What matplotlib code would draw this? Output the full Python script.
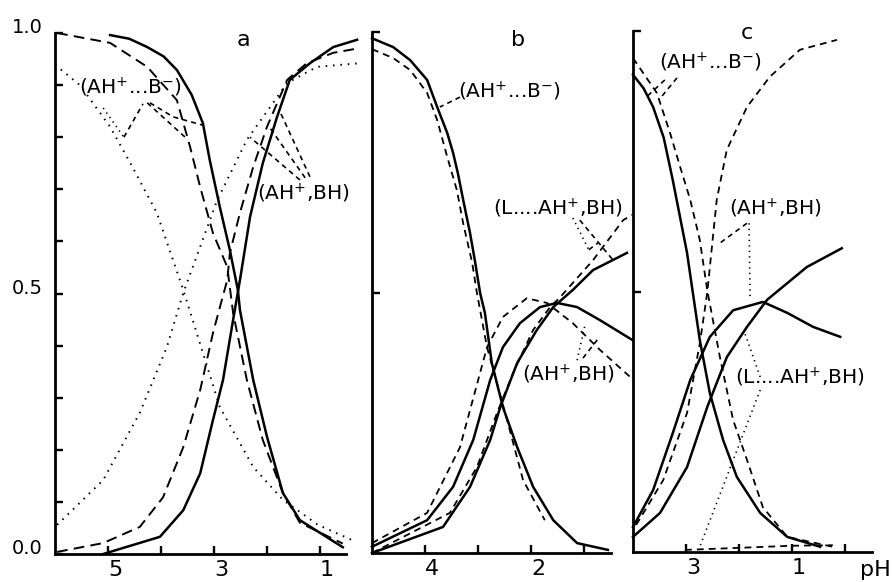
import matplotlib.pyplot as plt
import numpy as np

plt.rcParams['font.family'] = ['DejaVu Sans']
plt.rcParams['mathtext.fontset'] = 'dejavusans'

# ---- panel a (pH, fraction) ----
a_dot_dn_ph = [6.0, 5.53, 4.96, 4.55, 4.08, 3.58, 2.89, 2.26, 1.70, 1.04, 0.40]
a_dot_dn_y = [0.939, 0.90, 0.82, 0.745, 0.655, 0.507, 0.282, 0.167, 0.104, 0.056, 0.027]
a_dot_up_ph = [5.96, 5.09, 4.40, 3.89, 3.58, 2.94, 2.38, 1.62, 1.06, 0.25]
a_dot_up_y = [0.056, 0.142, 0.271, 0.397, 0.501, 0.679, 0.795, 0.904, 0.935, 0.942]
a_dash_dn_ph = [5.96, 4.96, 4.26, 3.70, 3.45, 3.26, 3.02, 2.75, 2.64, 2.38, 2.08, 1.70, 1.38, 0.57]
a_dash_dn_y = [1.0, 0.981, 0.935, 0.871, 0.781, 0.704, 0.616, 0.551, 0.463, 0.334, 0.219, 0.117, 0.06, 0.02]
a_sol_dn_ph = [4.96, 4.60, 4.26, 3.95, 3.70, 3.42, 3.21, 3.08, 2.89, 2.70, 2.55, 2.51, 2.26, 2.0, 1.70, 1.38, 0.57]
a_sol_dn_y = [0.996, 0.989, 0.973, 0.955, 0.929, 0.881, 0.827, 0.756, 0.666, 0.583, 0.507, 0.468, 0.334, 0.225, 0.117, 0.065, 0.013]
a_sol_up_ph = [5.09, 4.02, 3.58, 3.26, 3.02, 2.83, 2.64, 2.51, 2.32, 2.08, 1.81, 1.57, 1.19, 0.75, 0.30]
a_sol_up_y = [0.0, 0.033, 0.084, 0.155, 0.257, 0.334, 0.449, 0.526, 0.647, 0.75, 0.839, 0.91, 0.942, 0.973, 0.987]
a_dash_up_ph = [5.96, 5.09, 4.40, 3.96, 3.58, 3.26, 3.02, 2.75, 2.70, 2.51, 2.26, 2.0, 1.62, 1.25, 0.75, 0.25]
a_dash_up_y = [0.004, 0.021, 0.052, 0.109, 0.205, 0.315, 0.424, 0.526, 0.578, 0.655, 0.743, 0.82, 0.91, 0.942, 0.962, 0.971]

# ---- panel b ----
b_sol_dn_ph = [5.0, 4.60, 4.28, 3.96, 3.77, 3.58, 3.47, 3.38, 3.28, 3.15, 3.06, 2.96, 2.87, 2.74, 2.53,
               2.26, 1.96, 1.58, 1.13, 0.55]
b_sol_dn_y = [0.988, 0.971, 0.946, 0.908, 0.856, 0.806, 0.768, 0.729, 0.678, 0.614, 0.562, 0.499, 0.461,
              0.365, 0.280, 0.203, 0.127, 0.063, 0.019, 0.006]
b_dash_dn_ph = [5.0, 4.60, 4.28, 3.96, 3.77, 3.58, 3.40, 3.28, 3.11, 3.02, 2.83, 2.45, 2.15, 1.74]
b_dash_dn_y = [0.967, 0.95, 0.927, 0.883, 0.831, 0.76, 0.697, 0.633, 0.557, 0.499, 0.395, 0.255, 0.14, 0.063]
b_sol_bell_ph = [5.0, 3.96, 3.47, 3.09, 2.77, 2.53, 2.21, 1.83, 1.51, 1.13, 0.70, 0.09]
b_sol_bell_y = [0.012, 0.063, 0.127, 0.217, 0.332, 0.395, 0.441, 0.472, 0.48, 0.472, 0.447, 0.409]
b_sol_up_ph = [5.0, 3.66, 3.15, 2.77, 2.58, 2.26, 1.89, 1.58, 1.21, 0.83, 0.19]
b_sol_up_y = [0.0, 0.05, 0.127, 0.217, 0.28, 0.365, 0.428, 0.472, 0.505, 0.543, 0.576]
b_dash_bell_ph = [5.0, 3.96, 3.34, 2.83, 2.53, 2.08, 1.70, 1.21, 0.70, 0.13]
b_dash_bell_y = [0.019, 0.077, 0.203, 0.395, 0.453, 0.489, 0.48, 0.441, 0.39, 0.338]
b_dash_up_ph = [5.0, 3.53, 3.02, 2.64, 2.34, 1.96, 1.64, 1.45, 0.83, 0.26, 0.09]
b_dash_up_y = [0.0, 0.077, 0.165, 0.269, 0.345, 0.428, 0.472, 0.491, 0.562, 0.639, 0.649]

# ---- panel c ----
c_sol_dn_ph = [4.0, 3.80, 3.62, 3.42, 3.25, 2.98, 2.87, 2.74, 2.55, 2.30, 2.04, 1.60, 1.09, 0.47]
c_sol_dn_y = [0.916, 0.89, 0.854, 0.795, 0.714, 0.574, 0.497, 0.407, 0.305, 0.215, 0.144, 0.075, 0.029, 0.01]
c_dash_dn_ph = [4.0, 3.55, 3.30, 3.11, 2.92, 2.74, 2.60, 2.36, 2.11, 1.85, 1.55, 1.09, 0.23]
c_dash_dn_y = [0.948, 0.881, 0.804, 0.739, 0.676, 0.599, 0.503, 0.374, 0.253, 0.177, 0.086, 0.029, 0.01]
c_dash_up_ph = [3.94, 3.43, 2.98, 2.74, 2.60, 2.42, 2.23, 1.85, 1.42, 0.85, 0.15]
c_dash_up_y = [0.052, 0.138, 0.267, 0.40, 0.497, 0.676, 0.772, 0.854, 0.912, 0.964, 0.983]
c_sol_bell_ph = [4.0, 3.62, 3.25, 2.92, 2.55, 2.11, 1.55, 1.09, 0.60, 0.09]
c_sol_bell_y = [0.048, 0.119, 0.228, 0.33, 0.413, 0.464, 0.48, 0.459, 0.432, 0.413]
c_sol_up_ph = [4.0, 3.49, 2.98, 2.60, 2.23, 1.85, 1.47, 0.72, 0.06]
c_sol_up_y = [0.029, 0.075, 0.163, 0.278, 0.374, 0.432, 0.484, 0.547, 0.583]
c_dash_low_ph = [3.02, 2.5, 2.0, 1.5, 1.0, 0.23]
c_dash_low_y = [0.004, 0.006, 0.008, 0.01, 0.012, 0.013]

# leader lines: (style, pH list, fraction list)
a_leaders = [
    (':', [5.09, 4.70], [0.856, 0.80]),
    ('--', [4.70, 4.34], [0.80, 0.864]),
    ('--', [4.26, 3.49], [0.866, 0.795]),
    ('--', [4.21, 3.77, 3.21], [0.866, 0.839, 0.823]),
    ('--', [1.38, 2.32], [0.718, 0.80]),
    ('--', [1.28, 1.98], [0.722, 0.823]),
    ('--', [1.19, 1.75], [0.724, 0.848]),
]
b_leaders = [
    ('--', [3.34, 3.72], [0.875, 0.856]),
    (':', [1.21, 0.91], [0.643, 0.582]),
    ('--', [1.08, 0.45], [0.639, 0.562]),
    ('--', [0.91, 0.74], [0.582, 0.595]),
    (':', [1.13, 0.98], [0.37, 0.438]),
    ('--', [1.02, 0.75], [0.374, 0.409]),
]
c_leaders = [
    ('--', [3.17, 3.51], [0.91, 0.868]),
    ('--', [3.40, 3.75], [0.906, 0.873]),
    ('--', [1.85, 2.36], [0.631, 0.593]),
    (':', [1.81, 1.79], [0.631, 0.484]),
    (':', [1.60, 1.89], [0.336, 0.42]),
    (':', [1.60, 2.74], [0.311, 0.01]),
]

lab_ion = r'(AH$^{+}$...B$^{-}$)'
lab_pair = r'(AH$^{+}$,BH)'
lab_l = r'(L....AH$^{+}$,BH)'

W, H = 894, 582
fig = plt.figure(figsize=(W / 100, H / 100), dpi=100)


def make_ax(left, bot, right, top, xlim):
    ax = fig.add_axes([left / W, (H - bot) / H, (right - left) / W, (bot - top) / H])
    ax.set_xlim(*xlim)
    ax.set_ylim(0, 1)
    ax.spines['top'].set_visible(False)
    ax.spines['right'].set_visible(False)
    for s in ['left', 'bottom']:
        ax.spines[s].set_linewidth(2.0)
    ax.tick_params(direction='in', length=6, width=1.7, labelsize=16, pad=4)
    ax.tick_params(which='minor', direction='in', length=6, width=1.7)
    ax.patch.set_alpha(0)
    return ax


def curve(ax, x, y, style):
    if style == '-':
        ax.plot(x, y, color='black', lw=1.8, clip_on=False)
    elif style == 'long':
        ax.plot(x, y, color='black', lw=1.4, dashes=(5.5, 3.2), clip_on=False)
    elif style == '--':
        ax.plot(x, y, color='black', lw=1.3, dashes=(3.8, 2.8), clip_on=False)
    else:
        ax.plot(x, y, color='black', lw=1.4, dashes=(0.8, 3.0), clip_on=False)


def leader(ax, style, x, y):
    if style == ':':
        ax.plot(x, y, color='black', lw=1.2, dashes=(0.8, 2.5), clip_on=False)
    else:
        ax.plot(x, y, color='black', lw=1.2, dashes=(3, 2.5), clip_on=False)


def label(ax, x, y, s):
    ax.text(x, y, s, fontsize=14.5, ha='center', va='center', clip_on=False)


# panel a
ax_a = make_ax(55, 554, 346.5, 33, (6, 0.5))
curve(ax_a, a_dot_dn_ph, a_dot_dn_y, ':')
curve(ax_a, a_dot_up_ph, a_dot_up_y, ':')
curve(ax_a, a_dash_dn_ph, a_dash_dn_y, 'long')
curve(ax_a, a_dash_up_ph, a_dash_up_y, 'long')
curve(ax_a, a_sol_dn_ph, a_sol_dn_y, '-')
curve(ax_a, a_sol_up_ph, a_sol_up_y, '-')
for st, lx, ly in a_leaders:
    leader(ax_a, st, lx, ly)
label(ax_a, 4.58, 0.896, lab_ion)
label(ax_a, 1.32, 0.693, lab_pair)
ax_a.set_xticks([5, 4, 3, 2, 1])
ax_a.set_xticklabels(['5', '', '3', '', '1'])
ax_a.set_yticks([0, 0.5, 1.0])
ax_a.set_yticklabels(['0.0', '0.5', '1.0'], fontsize=14)
ax_a.set_yticks(np.arange(0.1, 1.0, 0.1), minor=True)
ax_a.tick_params(axis='y', pad=9)
for t in ax_a.get_yticklabels():
    t.set_verticalalignment('baseline')

# panel b
ax_b = make_ax(372, 553, 610.5, 32, (5, 0.5))
curve(ax_b, b_dash_dn_ph, b_dash_dn_y, '--')
curve(ax_b, b_sol_dn_ph, b_sol_dn_y, '-')
curve(ax_b, b_sol_bell_ph, b_sol_bell_y, '-')
curve(ax_b, b_sol_up_ph, b_sol_up_y, '-')
curve(ax_b, b_dash_bell_ph, b_dash_bell_y, '--')
curve(ax_b, b_dash_up_ph, b_dash_up_y, '--')
for st, lx, ly in b_leaders:
    leader(ax_b, st, lx, ly)
label(ax_b, 2.40, 0.887, lab_ion)
label(ax_b, 1.49, 0.662, lab_l)
label(ax_b, 1.30, 0.342, lab_pair)
ax_b.set_xticks([4, 3, 2, 1])
ax_b.set_xticklabels(['4', '', '2', ''])
ax_b.set_yticks([0.5, 1.0])
ax_b.set_yticklabels([])

# panel c
ax_c = make_ax(633, 552, 871.5, 31, (4, -0.5))
curve(ax_c, c_sol_dn_ph, c_sol_dn_y, '-')
curve(ax_c, c_dash_dn_ph, c_dash_dn_y, '--')
curve(ax_c, c_dash_up_ph, c_dash_up_y, '--')
curve(ax_c, c_sol_bell_ph, c_sol_bell_y, '-')
curve(ax_c, c_sol_up_ph, c_sol_up_y, '-')
curve(ax_c, c_dash_low_ph, c_dash_low_y, '--')
for st, lx, ly in c_leaders:
    leader(ax_c, st, lx, ly)
label(ax_c, 2.53, 0.939, lab_ion)
label(ax_c, 1.32, 0.66, lab_pair)
label(ax_c, 0.85, 0.336, lab_l)
ax_c.set_xticks([3, 2, 1, 0])
ax_c.set_xticklabels(['3', '', '1', ''])
ax_c.set_yticks([0.5, 1.0])
ax_c.set_yticklabels([])

for ax in (ax_a, ax_b, ax_c):
    for t in ax.get_xticklabels():
        t.set_horizontalalignment('left')

# panel letters and axis name
fig.text(243 / W, 1 - 40 / H, 'a', fontsize=16, ha='center', va='center')
fig.text(518 / W, 1 - 40 / H, 'b', fontsize=16, ha='center', va='center')
fig.text(747 / W, 1 - 33 / H, 'c', fontsize=16, ha='center', va='center')
fig.text(875 / W, 1 - 570 / H, 'pH', fontsize=16, ha='center', va='center')

fig.savefig('out.png', dpi=100)
